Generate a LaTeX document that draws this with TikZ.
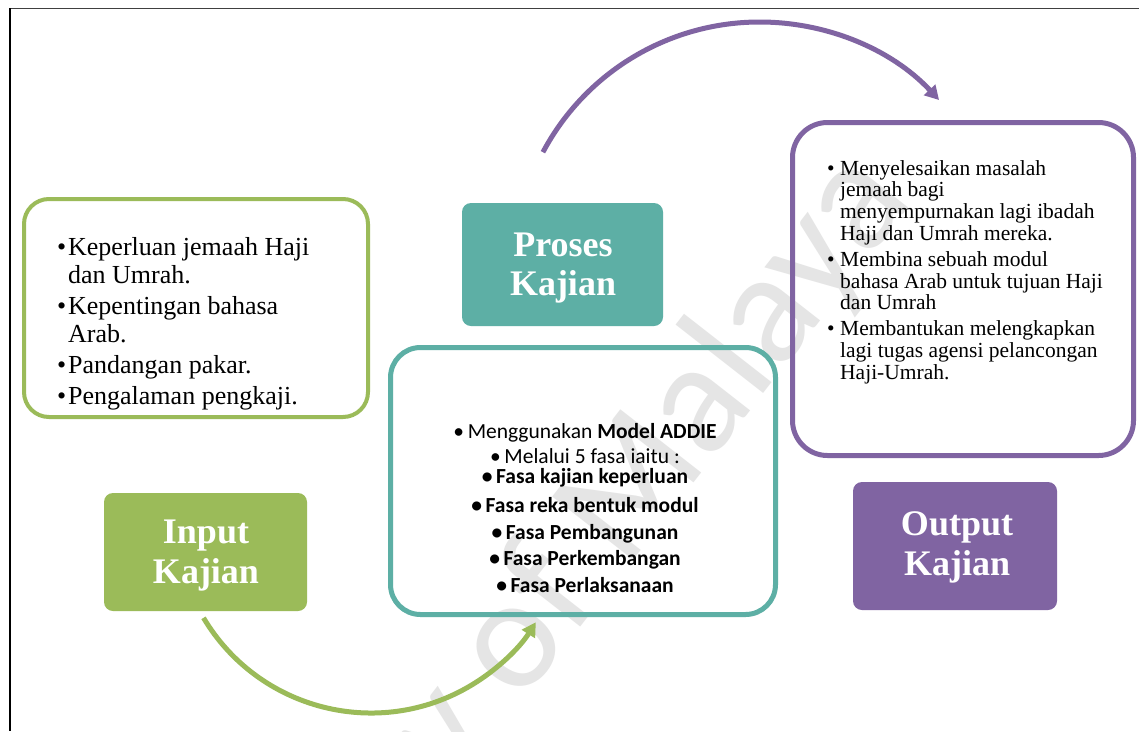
\documentclass[tikz,border=0pt]{standalone}
\usepackage{fontspec}
\setmainfont{Liberation Serif}
\newfontfamily\calibri{Carlito}
\newfontfamily\wmfont{Carlito}
\usetikzlibrary{arrows.meta}
\definecolor{kgreen}{HTML}{9BBB59}
\definecolor{kteal}{HTML}{5DAFA5}
\definecolor{kpurple}{HTML}{8064A2}
\newcommand\bul[1]{\noindent\hangindent=#1\hangafter=1\makebox[#1][l]{\textbullet}}
\begin{document}
\begin{tikzpicture}[x=1pt,y=-1pt,
  outline/.style={draw, inner sep=0pt, fill=none},
  titlebox/.style={rounded corners=9pt, inner sep=0pt},
  titletext/.style={inner sep=0pt, anchor=base, text=white},
  arcarrow/.style={line width=5pt, -{Triangle[length=14pt,width=15pt]}},
  bodytext/.style={inner sep=0pt, anchor=base west, text=black}]
\useasboundingbox (0,0) rectangle (1139,731);
\fill[white] (0,0) rectangle (1139,731);

% watermark (behind everything)
\begin{scope}
\clip (0,0) rectangle (1139,731);
\node[rotate=52, anchor=base east, inner sep=0pt, text=black!10,
  font=\wmfont\fontsize{160}{160}\selectfont] (wm) at (915,200) {ty of Malaya};
\end{scope}

% page frame
\draw[line width=1pt, black!75] (10,8.5) -- (1139,8.5);
\draw[line width=2pt, black] (10,8) -- (10,731);

% input
\node[outline, draw=kgreen, line width=4pt, rounded corners=25pt,
  minimum width=344pt, minimum height=218pt] (inbox) at (196,308) {};
\node[bodytext] (intext) at (57,255) {\parbox[t]{320pt}{\fontsize{26}{28}\selectfont\raggedright\setlength{\parskip}{3pt}%
\bul{11pt}Keperluan jemaah Haji\newline dan Umrah.\par
\bul{11pt}Kepentingan bahasa\newline Arab.\par
\bul{11pt}Pandangan pakar.\par
\bul{11pt}Pengalaman pengkaji.\par}};
\node[titlebox, fill=kgreen, minimum width=203pt, minimum height=118pt] (inlabel) at (205.5,552) {};
\node[titletext] (intitle) at (206,543) {\parbox[t]{200pt}{\centering\fontsize{36}{40}\selectfont\bfseries Input\\Kajian}};

% process
\node[titlebox, fill=kteal, minimum width=201pt, minimum height=123pt] (proclabel) at (562.5,264.5) {};
\node[titletext] (proctitle) at (563,256) {\parbox[t]{200pt}{\centering\fontsize{36}{39}\selectfont\bfseries Proses\\Kajian}};
\node[outline, draw=kteal, line width=5pt, rounded corners=30pt,
  minimum width=385pt, minimum height=267pt] (procbox) at (583,481) {};
\node[inner sep=0pt, anchor=base] (proctext) at (585,438) {\parbox[t]{340pt}{\centering\calibri\fontsize{21.5}{26}\selectfont
\textbullet\,Menggunakan \textbf{Model ADDIE}\\[-1pt]
\textbullet\,Melalui 5 fasa iaitu :\\[-6pt]
\textbf{\textbullet\,Fasa kajian keperluan}\\[3pt]
\textbf{\textbullet\,Fasa reka bentuk modul}\\[1pt]
\textbf{\textbullet\,Fasa Pembangunan}\\
\textbf{\textbullet\,Fasa Perkembangan}\\[1pt]
\textbf{\textbullet\,Fasa Perlaksanaan}\par}};

% output
\node[outline, draw=kpurple, line width=5pt, rounded corners=35pt,
  minimum width=341pt, minimum height=333pt] (outbox) at (963,289) {};
\node[bodytext] (outtext) at (827,175) {\parbox[t]{300pt}{\fontsize{21.5}{21.8}\selectfont\raggedright\setlength{\parskip}{4pt}%
\bul{13pt}Menyelesaikan masalah\newline jemaah bagi\newline menyempurnakan lagi ibadah\newline Haji dan Umrah mereka.\par
\bul{13pt}Membina sebuah modul\newline bahasa Arab untuk tujuan Haji\newline dan Umrah\par
\bul{13pt}Membantukan melengkapkan\newline lagi tugas agensi pelancongan\newline Haji-Umrah.\par}};
\node[titlebox, fill=kpurple, minimum width=204pt, minimum height=128pt] (outlabel) at (955,546) {};
\node[titletext] (outtitle) at (957,535) {\parbox[t]{200pt}{\centering\fontsize{36}{40}\selectfont\bfseries Output\\Kajian}};

% arrows
\coordinate (gc) at (371,518);
\coordinate (pc) at (759.6,267.4);
\draw[arcarrow, draw=kgreen] ([shift={(149.2:195)}]gc) arc[start angle=149.2, end angle=32.3, radius=195];
\draw[arcarrow, draw=kpurple] ([shift={(-152:245.4)}]pc) arc[start angle=-152, end angle=-43, radius=245.4];
\end{tikzpicture}
\end{document}
